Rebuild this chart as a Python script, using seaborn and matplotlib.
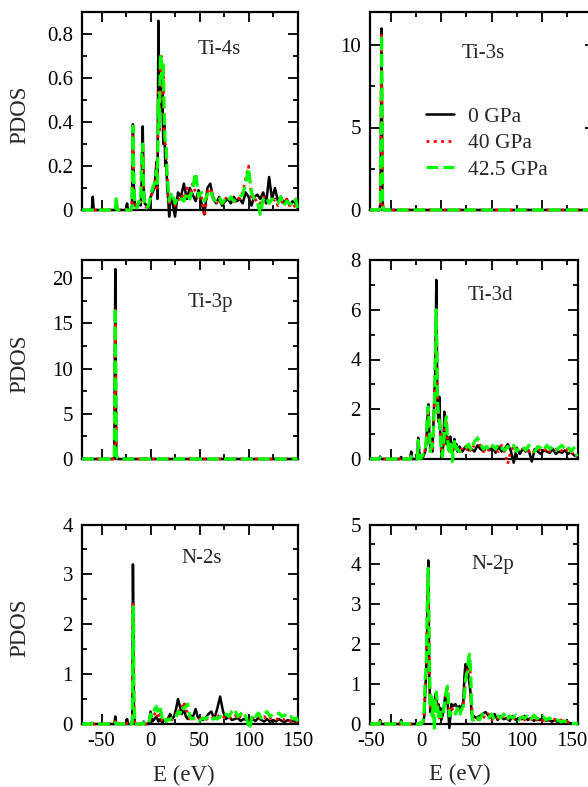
import matplotlib
matplotlib.use("Agg")
import matplotlib.pyplot as plt
from matplotlib.ticker import MultipleLocator, FixedLocator, FuncFormatter, NullLocator
import seaborn as sns

sns.set_style("ticks")
plt.rcParams["font.family"] = ["Liberation Serif", "DejaVu Serif"]
plt.rcParams["axes.unicode_minus"] = False

series_labels = ["0 GPa", "40 GPa", "42.5 GPa"]
series_colors = ["#000000", "#ff0000", "#00ff00"]
series_styles = ["-", ":", "--"]
series_widths = [1.8, 2.0, 2.3]

# ---------------- Ti-4s ----------------
E_ti4s = [-70, -60, -59, -58, -36, -35, -34, -25, -24, -23, -20,
          -19, -18, -17, -16, -14, -12, -10, -9, -8, -7, -6, -4, -2, 0, 2, 4, 6, 7, 8, 9,
          10, 11, 12, 13, 14, 15, 16, 17, 18, 19, 20,
          22, 25, 28, 31, 34, 37, 40, 43, 46, 49, 52, 55, 58, 61, 64, 67, 70, 73, 76, 79,
          82, 85, 88, 91, 94, 97, 100, 103, 106, 109, 112, 115, 118, 121, 124, 127, 130,
          133, 136, 139, 142, 145, 148, 150]
ti4s_0 = [0, 0, 0.06, 0, 0, 0.02, 0, 0, 0.03, 0, 0,
          0.02, 0.39, 0.1, 0.02, 0.01, 0.03, 0.02, 0.15, 0.38, 0.1, 0.03, 0.02, 0.01, 0.06, 0.08, 0.1, 0.22, 0.05, 0.86, 0.4,
          0.6, 0.45, 0.55, 0.3, 0.4, 0.2, 0.22, 0.1, 0.05, -0.03, 0.06,
          0.04, -0.03, 0.08, 0.06, 0.12, 0.05, 0.1, 0.07, 0.04, 0.09, 0.03, -0.02, 0.1, 0.12, 0.05, 0.03, 0.06, 0.02, 0.04, 0.05,
          0.03, 0.06, 0.04, 0.05, 0.03, 0.08, 0.06, 0.02, 0.06, 0.07, 0.05, 0.08, 0.03, 0.15, 0.05, 0.1, 0.04,
          0.06, 0.03, 0.05, 0.02, 0.04, 0.03, 0.01]
ti4s_40 = [0, 0, 0.01, 0, 0, 0.05, 0, 0, 0.01, 0, 0,
           0.02, 0.38, 0.12, 0.03, 0.01, 0.04, 0.03, 0.25, 0.29, 0.08, 0.02, 0.01, 0.02, 0.05, 0.09, 0.1, 0.2, 0.1, 0.55, 0.35,
           0.65, 0.7, 0.5, 0.62, 0.35, 0.3, 0.25, 0.15, 0.08, 0.02, 0.05,
           0.06, 0.02, 0.04, 0.07, 0.05, 0.1, 0.06, 0.12, 0.08, 0.05, 0.06, -0.03, 0.08, 0.1, 0.06, 0.03, 0.05, 0.02, 0.06, 0.04,
           0.05, 0.03, 0.06, 0.05, 0.08, 0.14, 0.2, 0.06, 0.04, 0.05, 0.03, 0.06, 0.05, 0.04, 0.03, 0.05, 0.02,
           0.04, 0.03, 0.05, 0.02, 0.03, 0.01, 0.01]
ti4s_42 = [0, 0, 0, 0, 0, 0.06, 0, 0, 0, 0, 0,
           0.01, 0.38, 0.12, 0.03, 0.01, 0.04, 0.03, 0.27, 0.3, 0.08, 0.02, 0.01, 0.02, 0.06, 0.1, 0.12, 0.18, 0.12, 0.5, 0.38,
           0.71, 0.68, 0.6, 0.66, 0.42, 0.3, 0.28, 0.14, 0.1, 0.04, 0.06,
           0.08, 0.03, 0.06, 0.05, 0.04, 0.08, 0.05, 0.1, 0.17, 0.06, 0.08, 0.04, 0.07, 0.09, 0.05, 0.04, 0.06, 0.03, 0.05, 0.04,
           0.06, 0.04, 0.05, 0.06, 0.07, 0.12, 0.19, 0.08, 0.05, 0.04, -0.02, 0.05, 0.06, 0.03, 0.05, 0.04, 0.03,
           0.06, 0.02, 0.04, 0.03, 0.02, 0.05, 0.01]

# ---------------- Ti-3s ----------------
E_ti3s = [-51, -41.5, -40.5, -39.5, -38.5, -37.5, 172]
ti3s_0 = [0, 0, 0.5, 11.0, 0.4, 0, 0]
ti3s_40 = [0, 0, 0.4, 10.6, 0.5, 0, 0]
ti3s_42 = [0, 0, 0.3, 10.6, 0.6, 0, 0]

# ---------------- Ti-3p ----------------
E_ti3p = [-70, -38, -37, -36, -35, -34, -33, 150]
ti3p_0 = [0, 0, 0.2, 21.0, 0.3, 0, 0, 0]
ti3p_40 = [0, 0, 0.1, 16.7, 0.8, 0.1, 0, 0]
ti3p_42 = [0, 0, 0.1, 16.7, 0.8, 0.1, 0, 0]

# ---------------- Ti-3d ----------------
E_ti3d = [-51, -42, -41, -40, -21, -20, -19, -11, -10, -9, -4, -3, -2, -1, 0, 2, 4,
          5, 6, 7, 8, 9, 10, 11, 12, 13, 14, 15, 16, 17, 18, 19, 20, 21, 22, 23, 24, 25, 26, 27, 28,
          29, 30, 31, 32, 33, 34, 35, 36, 38,
          41, 44, 47, 50, 53, 56, 59, 62, 65, 68, 71, 74, 77, 80, 83, 86, 89, 92, 95, 98,
          101, 104, 107, 110, 113, 116, 119, 122, 125, 128, 131, 134, 137, 140, 143, 146, 149, 152, 155]
ti3d_0 = [0, 0, 0.1, 0, 0, 0.08, 0, 0, 0.3, 0, 0, 0.85, 0.3, 0, 0.02, 0.1, 0.3,
          0.6, 1.5, 2.2, 1.0, 0.4, 0.8, 0.3, 1.2, 2.5, 3.5, 7.2, 2.5, 1.5, 2.5, 1.0, 0.4, 0.2, 0.6, 1.9, 1.2, 0.6, 0.9, 0.4, 0.5,
          0.9, 0.6, 0.3, 0.5, 0.8, 0.4, 0.6, 0.3, 0.5,
          0.3, 0.5, 0.35, 0.4, 0.3, 0.55, 0.4, 0.3, 0.5, 0.35, 0.45, 0.25, 0.5, 0.3, 0.4, 0.6, 0.35, -0.15, 0.45, 0.2,
          0.4, 0.3, 0.35, -0.1, 0.4, 0.3, 0.2, 0.35, 0.3, 0.25, 0.4, 0.2, 0.3, 0.25, 0.35, 0.2, 0.3, 0.15, 0.1]
ti3d_40 = [0, 0, 0.05, 0, 0, 0.03, 0, 0, 0.1, 0, 0, 0.7, 0.2, 0, 0.05, 0.15, 0.4,
           0.7, 1.6, 2.0, 1.2, 0.3, 0.6, 0.4, 1.0, 2.2, 4.0, 6.0, 2.2, 1.8, 1.4, 0.9, 0.3, 0.2, 0.5, 1.0, 1.6, 1.5, 0.8, 0.5, 0.4,
           0.7, 0.5, 0.2, 0.6, 0.7, 0.3, 0.5, 0.4, 0.4,
           0.4, 0.3, 0.5, 0.3, 0.6, 0.8, 0.5, 0.3, 0.45, 0.3, 0.5, 0.35, 0.3, 0.55, 0.3, -0.2, 0.3, 0.5, 0.35, 0.3,
           0.4, 0.45, 0.3, 0.4, 0.25, 0.35, 0.4, 0.3, 0.45, 0.3, 0.35, 0.4, 0.25, 0.35, 0.45, 0.3, 0.2, 0.3, 0.1]
ti3d_42 = [0, 0, 0.05, 0, 0, 0.03, 0, 0, 0.1, 0, 0, 0.75, 0.2, 0, 0.05, 0.2, 0.4,
           0.8, 1.7, 2.1, 1.3, 0.3, 0.5, 0.5, 1.1, 2.0, 4.2, 6.0, 2.4, 1.9, 1.5, 1.0, 0.3, 0.1, 0.5, 1.0, 1.5, 1.7, 0.9, 0.4, 0.3,
           0.6, 0.5, -0.1, 0.5, 0.7, 0.3, 0.5, 0.4, 0.3,
           0.35, 0.45, 0.6, 0.35, 0.7, 0.85, 0.6, 0.4, 0.5, 0.35, 0.55, 0.4, 0.6, 0.45, 0.35, 0.5, 0.4, 0.55, 0.3, 0.45,
           0.5, 0.35, 0.55, 0.4, 0.3, 0.5, 0.45, 0.35, 0.55, 0.4, 0.5, 0.35, 0.45, 0.55, 0.4, 0.5, 0.3, 0.45, 0.1]

# ---------------- N-2s ----------------
E_n2s = [-70, -61, -60, -59, -37, -36, -35, -25, -24, -23, -19, -18.5, -18, -17.5, -17, -16, -8, -7, -6, -2,
         0, 2, 4, 6, 8, 10, 12, 14, 16, 18, 20, 22, 24, 26, 28, 30, 32, 34, 36, 38, 40, 42, 44, 46, 48, 50,
         53, 56, 59, 62, 65, 68, 71, 74, 77, 80, 83, 86, 89, 92, 95, 98, 101, 104, 107, 110,
         113, 116, 119, 122, 125, 128, 131, 134, 137, 140, 143, 146, 149, 150]
n2s_0 = [0, 0, 0.02, 0, 0, 0.15, 0, 0, 0.1, 0, 0, 0.3, 3.2, 2.0, 0.3, 0, 0, 0.05, 0, 0,
         0.25, 0.05, 0.1, 0.15, 0.05, 0.1, 0.02, 0.08, 0.05, 0.12, 0.2, 0.1, 0.15, 0.3, 0.5, 0.35, 0.2, 0.3, 0.15, 0.1,
         0.2, 0.12, 0.18, 0.3, 0.15, 0.1,
         0.08, 0.12, 0.2, 0.25, 0.1, 0.3, 0.55, 0.25, 0.1, 0.15, 0.08, 0.1, 0.12, 0.06, 0.1, 0.08, 0.05, 0.1, 0.06, 0.12,
         0.08, 0.05, 0.1, 0.04, 0.08, 0.05, 0.1, 0.06, 0.04, 0.08, 0.05, 0.06, 0.03, 0.02]
n2s_40 = [0, 0, 0.06, 0, 0, 0.05, 0, 0, 0.02, 0, 0, 0.1, 2.4, 2.2, 0.4, 0, 0, 0.03, 0, 0,
          0.1, 0.15, 0.2, 0.25, 0.1, 0.2, 0.05, 0.1, 0.08, 0.05, 0.1, 0.08, 0.15, 0.2, 0.3, 0.25, 0.3, 0.45, 0.3, 0.2,
          0.1, 0.15, 0.1, 0.12, 0.08, 0.1,
          0.1, 0.08, 0.12, 0.1, 0.15, 0.12, 0.2, 0.15, 0.1, 0.12, 0.15, 0.2, 0.1, 0.15, 0.12, 0.1, 0.15, 0.12, 0.1, 0.14,
          0.1, 0.15, 0.08, 0.12, 0.1, 0.08, 0.12, 0.1, 0.08, 0.1, 0.06, 0.08, 0.05, 0.03]
n2s_42 = [0, 0, 0.02, 0, 0, 0.03, 0, 0, 0.02, 0, 0, 0.1, 2.2, 2.35, 0.5, 0, 0, 0.03, 0, 0,
          0.2, 0.15, 0.3, 0.35, 0.2, 0.3, 0.1, 0.15, 0.05, 0.1, 0.08, 0.12, 0.1, 0.15, 0.25, 0.2, 0.35, 0.3, 0.35, 0.4,
          0.15, 0.1, 0.12, 0.08, 0.1, 0.06,
          0.12, 0.1, 0.15, 0.08, 0.12, 0.1, 0.15, 0.12, 0.2, 0.15, 0.25, 0.3, 0.15, 0.2, 0.25, 0.1, -0.1, 0.2, 0.15, 0.22,
          0.12, 0.2, 0.25, 0.15, 0.2, 0.18, 0.22, 0.15, 0.18, 0.12, 0.15, 0.1, 0.12, 0.05]

# ---------------- N-2p ----------------
E_n2p = [-51, -42, -41, -40, -21, -20, -19, -2, -1, 0, 2, 3,
         4, 5, 6, 7, 8, 9, 10, 11, 12, 13, 14, 15, 16, 17, 18, 19, 20,
         22, 24, 26, 28, 30, 32, 34, 36, 38, 40, 42,
         43, 44, 45, 46, 47, 48, 49, 50, 51, 52,
         55, 58, 61, 64, 67, 70, 73, 76, 79, 82, 85, 88, 91, 94, 97, 100, 103, 106, 109, 112,
         115, 118, 121, 124, 127, 130, 133, 136, 139, 142, 145, 148, 156]
n2p_0 = [0, 0, 0.1, 0, 0, 0.1, 0, 0, 0.03, 0, 0.05, 0.2,
         0.8, 1.4, 2.5, 4.1, 1.2, 0.3, 0.5, 0.2, 0.6, 0.4, 0.75, 0.7, 0.3, 0.5, 0.2, 0.4, 0.1,
         0.3, 0.75, 0.6, -0.1, 0.5, 0.45, 0.5, 0.4, 0.45, 0.35, 0.6,
         1.2, 1.5, 1.45, 1.4, 1.2, 1.0, 0.8, 0.3, 0.1, 0.2,
         0.15, 0.2, 0.25, 0.3, 0.2, 0.15, 0.25, 0.1, 0.2, 0.12, 0.15, 0.08, 0.2, 0.1, 0.15, 0.12, 0.2, 0.1, 0.15, 0.08,
         0.12, 0.1, 0.15, 0.08, 0.1, 0.06, 0.1, 0.05, 0.08, 0.04, 0.05, 0.02, 0.0]
n2p_40 = [0, 0, 0.12, 0, 0, 0.08, 0, 0, 0.02, 0, 0.05, 0.3,
          1.0, 1.3, 2.8, 3.9, 1.5, 0.4, 0.6, 0.3, 0.5, 0.3, 0.6, 0.7, 0.4, 0.3, 0.15, 0.3, 0.2,
          0.4, 0.6, 0.9, 0.3, 0.35, 0.4, 0.3, 0.35, 0.3, 0.4, 0.5,
          0.8, 1.2, 1.3, 1.25, 1.5, 1.6, 1.2, 0.5, 0.2, 0.15,
          0.1, 0.15, 0.2, 0.15, 0.25, 0.1, 0.2, 0.15, 0.1, 0.2, 0.12, 0.15, 0.1, 0.18, 0.12, 0.2, 0.1, 0.15, 0.12, 0.18,
          0.1, 0.12, 0.08, 0.15, 0.1, 0.08, 0.12, 0.06, 0.1, 0.05, 0.06, 0.03, 0.0]
n2p_42 = [0, 0, 0.05, 0, 0, 0.05, 0, 0, 0.02, 0, 0.08, 0.4,
          1.2, 1.4, 3.0, 3.9, 1.8, 0.5, 0.7, 0.2, 0.6, -0.15, 0.5, 0.8, 0.5, 0.2, 0.1, 0.3, 0.15,
          0.3, 0.7, 0.95, 0.2, 0.3, 0.35, 0.25, 0.4, 0.2, 0.35, 0.45,
          0.7, 1.1, 1.25, 1.3, 1.6, 1.75, 1.4, 0.6, 0.1, 0.1,
          0.2, 0.1, 0.25, 0.2, 0.15, 0.25, 0.1, 0.2, 0.15, 0.25, 0.1, 0.2, 0.15, 0.22, 0.1, 0.18, 0.15, 0.2, 0.1, 0.22,
          0.15, 0.12, 0.2, 0.1, 0.15, 0.12, 0.08, 0.1, 0.05, 0.08, 0.04, 0.02, 0.0]

# ---------------- layout ----------------
FW, FH = 588, 787
fig = plt.figure(figsize=(FW / 100, FH / 100), dpi=100)
fig.patch.set_facecolor("white")

left_x0, left_w = 82, 215.5
right_x0, right_w, right_w_top = 370, 208, 225
rows = [(12, 210), (260, 459), (524.5, 724)]
left_xlim = (-70, 150)
right_scale = 208 / 207.0  # px per eV
right_xlim = (-51, 156)
right_xlim_top = (-51, -51 + right_w_top / right_scale)

panels = [
    dict(name="Ti-4s", E=E_ti4s, ys=[ti4s_0, ti4s_40, ti4s_42], col=0, row=0,
         ylim=(0, 0.9), ymaj=0.2, ymin=0.1, lab=(0.636, 0.81)),
    dict(name="Ti-3s", E=E_ti3s, ys=[ti3s_0, ti3s_40, ti3s_42], col=1, row=0,
         ylim=(0, 12), ymaj=5, ymin=2.5, lab=(0.502, 0.79)),
    dict(name="Ti-3p", E=E_ti3p, ys=[ti3p_0, ti3p_40, ti3p_42], col=0, row=1,
         ylim=(0, 22), ymaj=5, ymin=2.5, lab=(0.594, 0.784)),
    dict(name="Ti-3d", E=E_ti3d, ys=[ti3d_0, ti3d_40, ti3d_42], col=1, row=1,
         ylim=(0, 8), ymaj=2, ymin=1, lab=(0.577, 0.824)),
    dict(name="N-2s", E=E_n2s, ys=[n2s_0, n2s_40, n2s_42], col=0, row=2,
         ylim=(0, 4), ymaj=1, ymin=0.5, lab=(0.557, 0.832)),
    dict(name="N-2p", E=E_n2p, ys=[n2p_0, n2p_40, n2p_42], col=1, row=2,
         ylim=(0, 5), ymaj=1, ymin=0.5, lab=(0.59, 0.80)),
]

TICK_FS = 15
for p in panels:
    top, bot = rows[p["row"]]
    if p["col"] == 0:
        x0, w = left_x0, left_w
    else:
        x0 = right_x0
        w = right_w_top if p["row"] == 0 else right_w
    ax = fig.add_axes([x0 / FW, 1 - bot / FH, w / FW, (bot - top) / FH])

    for y in p["ys"]:
        assert len(y) == len(p["E"]), (p["name"], len(y), len(p["E"]))
    for y, c, ls, lw in zip(p["ys"], series_colors, series_styles, series_widths):
        sns.lineplot(x=p["E"], y=y, ax=ax, color=c, linestyle=ls, linewidth=lw,
                     estimator=None, sort=False, legend=False, clip_on=False)
    if ax.get_legend() is not None:
        ax.get_legend().remove()

    ax.set_ylim(*p["ylim"])
    ax.yaxis.set_major_locator(MultipleLocator(p["ymaj"]))
    ax.yaxis.set_minor_locator(MultipleLocator(p["ymin"]))
    ax.yaxis.set_major_formatter(FuncFormatter(lambda v, pos: f"{v:g}"))

    if p["col"] == 0:
        ax.set_xlim(*left_xlim)
        ax.xaxis.set_major_locator(FixedLocator([-50, 0, 50, 100, 150]))
        ax.xaxis.set_minor_locator(FixedLocator([-25, 25, 75, 125]))
    else:
        ax.set_xlim(*(right_xlim_top if p["row"] == 0 else right_xlim))
        ax.xaxis.set_major_locator(FixedLocator([-30, 20, 70, 120, 170]))
        ax.xaxis.set_minor_locator(FixedLocator([-5, 45, 95, 145]))

    ax.tick_params(which="both", direction="in", top=True, right=True,
                   width=1.3, colors="black", labelsize=TICK_FS)
    ax.tick_params(which="major", length=7)
    ax.tick_params(which="minor", length=3.5)
    ax.tick_params(axis="y", pad=6.5)
    ax.tick_params(axis="x", pad=6)
    for sp in ax.spines.values():
        sp.set_linewidth(1.6)
        sp.set_color("black")
        sp.set_zorder(1)

    ax.set_xlabel("")
    ax.set_ylabel("")

    if p["row"] < 2:
        ax.tick_params(axis="x", labelbottom=False)
    else:
        ax.set_xlabel("E (eV)", fontsize=16.5)
        if p["col"] == 0:
            ax.xaxis.set_label_coords(0.473, -0.205)
        else:
            ax.tick_params(axis="x", labelbottom=False)
            sec = ax.secondary_xaxis("bottom")
            sec.set_xticks([-50, 0, 50, 100, 150])
            sec.xaxis.set_minor_locator(NullLocator())
            sec.tick_params(axis="x", length=0, labelsize=TICK_FS, pad=6, colors="black")
            for sp in sec.spines.values():
                sp.set_visible(False)
            ax.xaxis.set_label_coords(0.43, -0.2)

    if p["col"] == 0:
        ax.set_ylabel("PDOS", fontsize=16.5)
        ax.yaxis.set_label_coords(-0.24, 0.48)

    ax.text(p["lab"][0], p["lab"][1], p["name"], transform=ax.transAxes,
            ha="center", va="center", fontsize=15)

    if p["name"] == "Ti-3s":
        ax.legend(handles=ax.get_lines()[:3], labels=series_labels,
                  loc="center left", bbox_to_anchor=(0.249, 0.338),
                  frameon=False, fontsize=15.5, handlelength=1.3,
                  handletextpad=0.65, labelspacing=0.3,
                  borderpad=0, borderaxespad=0)

fig.savefig("out.png", dpi=100, facecolor="white")
